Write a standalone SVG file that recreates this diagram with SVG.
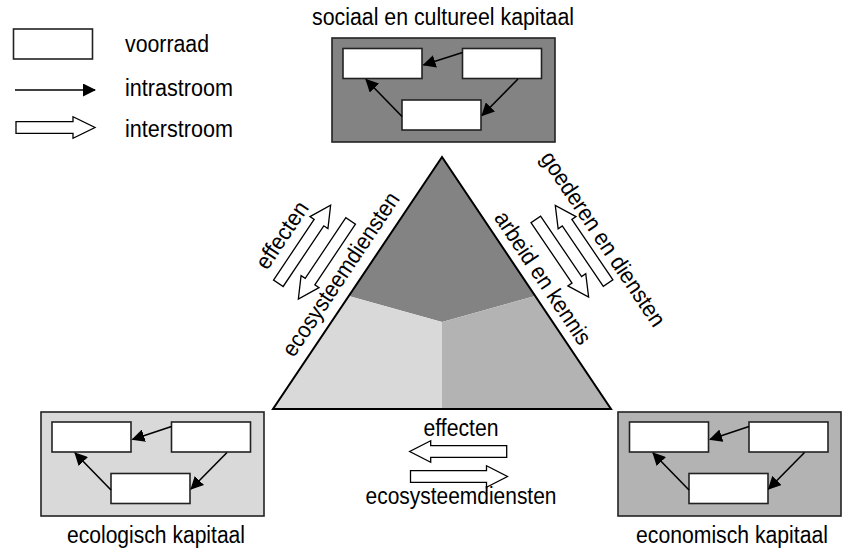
<svg xmlns="http://www.w3.org/2000/svg" width="845" height="551" viewBox="0 0 845 551">
  <defs>
    <style>
      text { font-family: "Liberation Sans", Arial, sans-serif; font-size: 23px; fill: #000; }
      .mid { text-anchor: middle; }
      .stock { fill: #fff; stroke: #222; stroke-width: 1.6; }
      .frame { stroke: #222; stroke-width: 1.6; }
      .flow { fill: none; stroke: #000; stroke-width: 1.6; marker-end: url(#head); }
      .inter { fill: #fff; stroke: #000; stroke-width: 1.3; stroke-linejoin: miter; }
    </style>
    <marker id="head" viewBox="0 0 13 13" markerWidth="13" markerHeight="13" refX="12" refY="6.5" orient="auto" markerUnits="userSpaceOnUse">
      <path d="M0,0 L13,6.5 L0,13 z" fill="#000"/>
    </marker>
  </defs>

  <rect width="845" height="551" fill="#fff"/>

  <!-- legend -->
  <g id="legend">
    <rect class="stock" x="13.5" y="29" width="79" height="30"/>
    <text x="125" y="51.5" textLength="84" lengthAdjust="spacingAndGlyphs">voorraad</text>
    <line class="flow" x1="15" y1="90" x2="95" y2="90"/>
    <text x="125" y="96" textLength="108" lengthAdjust="spacingAndGlyphs">intrastroom</text>
    <path class="inter" d="M16,121.7 H73 V116.7 L95,127.5 L73,138.3 V133.3 H16 z"/>
    <text x="125" y="137" textLength="108" lengthAdjust="spacingAndGlyphs">interstroom</text>
  </g>

  <!-- central triangle -->
  <g id="triangle">
    <polygon points="442,157 348.8,296 442,322 535.2,296" fill="#838383"/>
    <polygon points="348.8,296 442,322 442,409 273,409" fill="#d9d9d9"/>
    <polygon points="535.2,296 442,322 442,409 611,409" fill="#b3b3b3"/>
    <polygon points="442,157 273,409 611,409" fill="none" stroke="#000" stroke-width="2" stroke-linejoin="miter"/>
  </g>

  <!-- capital stocks -->
  <g id="sociaal" transform="translate(332,38)">
    <rect class="frame" x="0" y="0" width="223" height="104" fill="#838383"/>
    <rect class="stock" x="11" y="10.5" width="79" height="30"/>
    <rect class="stock" x="130.5" y="10.5" width="79" height="30"/>
    <rect class="stock" x="70" y="62" width="79" height="30"/>
    <line class="flow" x1="130.5" y1="14.5" x2="91.5" y2="27"/>
    <line class="flow" x1="186" y1="41" x2="150" y2="77.5"/>
    <line class="flow" x1="70" y1="78.5" x2="34" y2="41.5"/>
  </g>
  <text class="mid" x="443" y="25" textLength="262" lengthAdjust="spacingAndGlyphs">sociaal en cultureel kapitaal</text>

  <g id="ecologisch" transform="translate(41,412)">
    <rect class="frame" x="0" y="0" width="223" height="104" fill="#d9d9d9"/>
    <rect class="stock" x="11" y="10" width="79" height="30"/>
    <rect class="stock" x="130.5" y="10" width="79" height="30"/>
    <rect class="stock" x="70" y="61.5" width="79" height="30"/>
    <line class="flow" x1="130.5" y1="14.5" x2="91.5" y2="27.5"/>
    <line class="flow" x1="186" y1="40.5" x2="150" y2="77"/>
    <line class="flow" x1="70" y1="78" x2="34" y2="41"/>
  </g>
  <text class="mid" x="156" y="543" textLength="178" lengthAdjust="spacingAndGlyphs">ecologisch kapitaal</text>

  <g id="economisch" transform="translate(618,412)">
    <rect class="frame" x="0" y="0" width="223" height="104" fill="#b3b3b3"/>
    <rect class="stock" x="11.5" y="10" width="79" height="30"/>
    <rect class="stock" x="131" y="10" width="79" height="30"/>
    <rect class="stock" x="71" y="61.5" width="79" height="30"/>
    <line class="flow" x1="131" y1="14.5" x2="92" y2="27.5"/>
    <line class="flow" x1="186.5" y1="40.5" x2="150.5" y2="77"/>
    <line class="flow" x1="71" y1="78" x2="35" y2="41"/>
  </g>
  <text class="mid" x="732" y="543" textLength="192" lengthAdjust="spacingAndGlyphs">economisch kapitaal</text>

  <!-- flows between capitals -->
  <g id="connectors">
    <!-- ecologisch <-> sociaal -->
    <path class="inter" transform="translate(304.5,244.2) rotate(-56.2)" d="M-47,-5.8 H26 V-10.8 L47,0 L26,10.8 V5.8 H-47 z"/>
    <path class="inter" transform="translate(324.5,260) rotate(123.8)" d="M-47,-5.8 H26 V-10.8 L47,0 L26,10.8 V5.8 H-47 z"/>
    <!-- economisch <-> sociaal -->
    <path class="inter" transform="translate(581.7,244.2) rotate(-124.2)" d="M-47,-5.8 H26 V-10.8 L47,0 L26,10.8 V5.8 H-47 z"/>
    <path class="inter" transform="translate(562.2,258.3) rotate(55.8)" d="M-47,-5.8 H26 V-10.8 L47,0 L26,10.8 V5.8 H-47 z"/>
    <!-- ecologisch <-> economisch -->
    <path class="inter" transform="translate(458.2,451.5) rotate(180)" d="M-48.5,-5.8 H27.5 V-10.8 L48.5,0 L27.5,10.8 V5.8 H-48.5 z"/>
    <path class="inter" transform="translate(459,476.5)" d="M-48.5,-5.8 H27.5 V-10.8 L48.5,0 L27.5,10.8 V5.8 H-48.5 z"/>
  </g>

  <!-- flow labels -->
  <text class="mid" transform="translate(288.4,239.5) rotate(-56.2)" textLength="76" lengthAdjust="spacingAndGlyphs">effecten</text>
  <text class="mid" transform="translate(347.2,278.5) rotate(-56.2)" textLength="192" lengthAdjust="spacingAndGlyphs">ecosysteemdiensten</text>
  <text class="mid" transform="translate(596.7,243.3) rotate(56.2)" textLength="205" lengthAdjust="spacingAndGlyphs">goederen en diensten</text>
  <text class="mid" transform="translate(536.6,282.2) rotate(56.2)" textLength="155" lengthAdjust="spacingAndGlyphs">arbeid en kennis</text>
  <text class="mid" x="461" y="436" textLength="75" lengthAdjust="spacingAndGlyphs">effecten</text>
  <text class="mid" x="461" y="504" textLength="191" lengthAdjust="spacingAndGlyphs">ecosysteemdiensten</text>
</svg>
